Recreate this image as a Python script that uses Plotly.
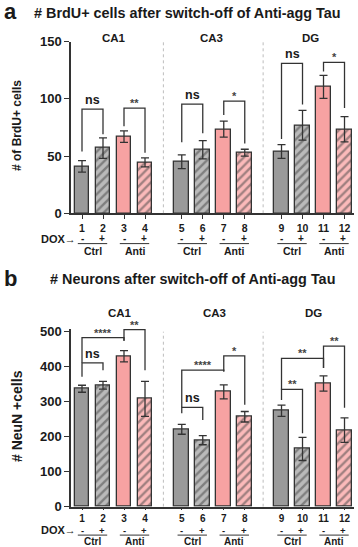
import plotly.graph_objects as go

W, H = 358, 547

# ---------------- data ----------------
bar_labels = [str(i) for i in range(1, 13)]
regions = ["CA1", "CA3", "DG"]
dox_signs = ["-", "+", "-", "+"]
genotypes = ["Ctrl", "Anti"]

brdu_mean = [41, 57, 67, 44.5, 45, 55.5, 73.5, 53, 54, 77, 110.5, 73.5]
brdu_err = [5, 9, 5, 4, 6, 8, 7, 3, 6, 13, 10, 11]

neun_mean = [337, 347, 430, 308, 221, 190, 328, 257, 274, 165, 352, 219]
neun_err = [10, 11, 16, 50, 14, 13, 20, 15, 16, 33, 22, 35]

hatched = [False, True, False, True] * 3
is_anti = [False, False, True, True] * 3

# significance brackets: (bar a, bar b, bracket top, leg a end, leg b end, label)
brdu_sig = [
    (1, 2, 91, 54, 69, "ns"),
    (3, 4, 92, 76, 53, "**"),
    (5, 6, 95.5, 62, 70, "ns"),
    (7, 8, 98, 86, 61, "*"),
    (9, 10, 131, 65, 95, "ns"),
    (11, 12, 132, 124, 92, "*"),
]
neun_sig = [
    (1, 2, 411, 371, 390, "ns"),
    (1, 3, 483, 411, 474, "****"),
    (3, 4, 506, 474, 390, "**"),
    (5, 6, 284, 267, 248, "ns"),
    (5, 7, 390, 284, 386, "****"),
    (7, 8, 431, 386, 291, "*"),
    (9, 10, 335, 305, 210, "**"),
    (9, 11, 424, 335, 396, "**"),
    (11, 12, 459, 396, 283, "**"),
]

# ---------------- styling ----------------
FONT = "Liberation Sans, Arial, Helvetica, sans-serif"
TXT = "#1a1a1a"
AX = "#333333"
GAP = 4.75
xpos = [(i % 4) + (i // 4) * GAP for i in range(12)]
XR = [-0.524, 12.952]
XDOM = [71 / W, 354 / W]


def py(p):
    return 1 - p / H


def colors():
    c = []
    for h, a in zip(hatched, is_anti):
        if a:
            c.append("#fbbaba" if h else "#f7a2a2")
        else:
            c.append("#bababa" if h else "#9a9a9a")
    return c


fig = go.Figure()

panels = [
    dict(mean=brdu_mean, err=brdu_err, sig=brdu_sig, xa="x", ya="y",
         yr=[0, 150], yticks=[0, 50, 100, 150], ytop=150,
         zero_px=213.3, top_px=41.7,
         dox_off=25.5, line_off=30.3, grp_off=38, dox_size=10,
         grp_size=10.5,
         reg_px=38, reg_dx=[0.2, 0.1, 0.1],
         ytitle="# of BrdU+ cells", ytitle_size=12, ytitle_px=126,
         title="# BrdU+ cells after switch-off of Anti-agg Tau",
         title_px=13, title_x=32, letter="a", letter_x=3),
    dict(mean=neun_mean, err=neun_err, sig=neun_sig, xa="x2", ya="y2",
         yr=[0, 509], yticks=[0, 100, 200, 300, 400, 500], ytop=500,
         zero_px=506.7, top_px=331.7 - 9 * 0.35,
         dox_off=23.6, line_off=28.4, grp_off=34.4, dox_size=9.5,
         grp_size=10,
         reg_px=313, reg_dx=[0.5, 0.25, 0.2],
         ytitle="# NeuN +cells", ytitle_size=14, ytitle_px=416,
         title="# Neurons after switch-off of Anti-agg Tau",
         title_px=279, title_x=48, letter="b", letter_x=3),
]

shapes = []
annotations = []

for k, p in enumerate(panels):
    xa, ya = p["xa"], p["ya"]
    fig.add_trace(go.Bar(
        x=xpos, y=p["mean"], width=0.71,
        xaxis=xa, yaxis=ya,
        marker=dict(
            color=colors(),
            line=dict(color=AX, width=1.3),
            pattern=dict(shape=["/" if h else "" for h in hatched],
                         fgcolor="#111111", size=6, solidity=0.4,
                         fillmode="overlay"),
        ),
        error_y=dict(type="data", array=p["err"], visible=True,
                     color=AX, thickness=1.3, width=4),
        showlegend=False, hoverinfo="skip",
    ))
    # brackets
    for a, b, top, la, lb, lab in p["sig"]:
        x0, x1 = xpos[a - 1], xpos[b - 1]
        fig.add_trace(go.Scatter(
            x=[x0, x0, x1, x1], y=[la, top, top, lb], mode="lines",
            line=dict(color=AX, width=1.3), xaxis=xa, yaxis=ya,
            showlegend=False, hoverinfo="skip"))
        is_ns = lab == "ns"
        annotations.append(dict(
            x=(x0 + x1) / 2, y=top, xref=xa, yref=ya, text=lab,
            showarrow=False, yanchor="bottom",
            yshift=0 if is_ns else -3,
            font=dict(family=FONT, size=12.5 if is_ns else 11,
                      color=TXT if is_ns else "#444", weight="bold")))
    # separators
    for sx in [(xpos[3] + xpos[4]) / 2, (xpos[7] + xpos[8]) / 2]:
        shapes.append(dict(type="line", xref=xa, yref=ya, x0=sx, x1=sx,
                           y0=0, y1=p["ytop"],
                           line=dict(color="#bdbdbd", width=1, dash="dot")))
    # region labels
    for g, reg in enumerate(regions):
        cx = (xpos[4 * g] + xpos[4 * g + 3]) / 2 + p["reg_dx"][g] - 0.2
        annotations.append(dict(
            x=cx, y=py(p["reg_px"]), xref=xa, yref="paper", text=reg,
            showarrow=False, yanchor="middle",
            font=dict(family=FONT, size=11.5, color=TXT, weight="bold")))
    z = p["zero_px"]
    # DOX row
    annotations.append(dict(
        x=77 / W, y=py(z + p["dox_off"]), xref="paper", yref="paper",
        text="DOX→", showarrow=False, xanchor="right", yanchor="middle",
        borderpad=0,
        font=dict(family=FONT, size=11, color=TXT, weight="bold")))
    for i in range(12):
        annotations.append(dict(
            x=xpos[i] - (0.05 if dox_signs[i % 4] == "+" else 0.0),
            y=py(z + p["dox_off"]), xref=xa, yref="paper",
            text=dox_signs[i % 4], showarrow=False, yanchor="middle",
            borderpad=0,
            font=dict(family=FONT, size=p["dox_size"], color=TXT,
                      weight="bold")))
    for j in range(6):
        x0, x1 = xpos[2 * j], xpos[2 * j + 1]
        shapes.append(dict(type="line", xref=xa, yref="paper",
                           x0=x0 - 0.2, x1=x1 + 0.2,
                           y0=py(z + p["line_off"]), y1=py(z + p["line_off"]),
                           line=dict(color=AX, width=1)))
        annotations.append(dict(
            x=(x0 + x1) / 2, y=py(z + p["grp_off"]), xref=xa, yref="paper",
            text=genotypes[j % 2], showarrow=False, yanchor="middle",
            borderpad=0,
            font=dict(family=FONT, size=p["grp_size"], color=TXT,
                      weight="bold")))
    # y title
    annotations.append(dict(
        x=17 / W, y=py(p["ytitle_px"]), xref="paper", yref="paper",
        text=p["ytitle"], textangle=-90, showarrow=False,
        xanchor="center", yanchor="middle",
        font=dict(family=FONT, size=p["ytitle_size"], color=TXT,
                  weight="bold")))
    # panel titles
    annotations.append(dict(
        x=p["letter_x"] / W, y=py(p["title_px"] - 1), xref="paper",
        yref="paper", text=p["letter"], showarrow=False,
        xanchor="left", yanchor="middle", borderpad=0,
        font=dict(family=FONT, size=22, color=TXT, weight="bold")))
    annotations.append(dict(
        x=p["title_x"] / W, y=py(p["title_px"]), xref="paper", yref="paper",
        text=p["title"], showarrow=False, xanchor="left", yanchor="middle",
        font=dict(family=FONT, size=14.4, color=TXT, weight="bold")))

axis_common = dict(showgrid=False, zeroline=False, showline=True,
                   linecolor=AX, linewidth=1.5, ticks="outside",
                   tickcolor=AX, tickwidth=1.3, automargin=False)

p0, p1 = panels
fig.update_layout(
    width=W, height=H, autosize=False,
    margin=dict(l=0, r=0, t=0, b=0, pad=0, autoexpand=False),
    paper_bgcolor="white", plot_bgcolor="white",
    bargap=0,
    xaxis=dict(domain=XDOM, range=XR, anchor="y", tickvals=xpos,
               ticktext=bar_labels, ticklen=4,
               tickfont=dict(family=FONT, size=10.5, color=TXT, weight="bold"),
               **axis_common),
    yaxis=dict(domain=[py(p0["zero_px"]), py(p0["top_px"])], range=p0["yr"],
               anchor="x", tickvals=p0["yticks"], ticklen=5,
               tickfont=dict(family=FONT, size=13, color=TXT, weight="bold"),
               **axis_common),
    xaxis2=dict(domain=XDOM, range=XR, anchor="y2", tickvals=xpos,
                ticktext=bar_labels, ticklen=2,
                tickfont=dict(family=FONT, size=10, color=TXT, weight="bold"),
                **axis_common),
    yaxis2=dict(domain=[py(p1["zero_px"]), py(p1["top_px"])], range=p1["yr"],
                anchor="x2", tickvals=p1["yticks"], ticklen=5,
                tickfont=dict(family=FONT, size=13, color=TXT, weight="bold"),
                **axis_common),
    shapes=shapes,
    annotations=annotations,
)

fig.write_html(
    "out.html",
    config={"displayModeBar": False},
    post_script="document.body.style.margin='0';"
                "document.body.style.padding='0';"
                "document.body.style.overflow='hidden';",
)
